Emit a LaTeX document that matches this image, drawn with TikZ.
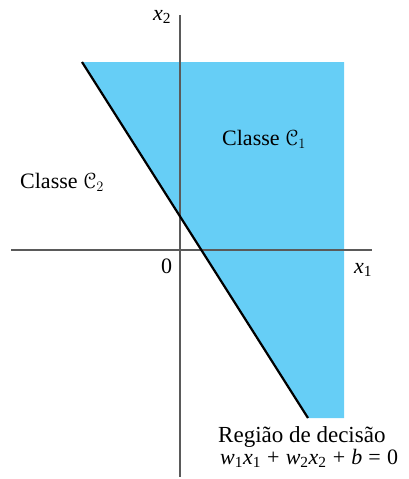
\documentclass[tikz,border=0pt]{standalone}
\usepackage{fontspec}
\setmainfont{Liberation Serif}
\usepackage[mathscr]{euscript}
\definecolor{regblue}{RGB}{102,206,246}
\definecolor{axisgray}{RGB}{90,90,90}
\newcommand\vsub[2]{\textit{#1}\textsubscript{#2}}
\newcommand\opsp[1]{\hspace{0.28em}#1\hspace{0.28em}}
\begin{document}
\begin{tikzpicture}[x=1pt,y=-1pt,
  lbl/.style={inner sep=0pt, anchor=base west, font=\fontsize{22}{26}\selectfont},
  biglbl/.style={lbl, font=\fontsize{23}{27}\selectfont},
  axisline/.style={draw=axisgray, line width=1.3pt},
  boundary/.style={draw=black, line width=2.2pt}]
\useasboundingbox (0,0) rectangle (408,479);
\coordinate (tl) at (82,62);
\coordinate (tr) at (344,62);
\coordinate (br) at (344,418);
\coordinate (bl) at (308,418);
\coordinate (xa) at (11,250);
\coordinate (xb) at (372,250);
\coordinate (ya) at (180,15);
\coordinate (yb) at (180,477);
\fill[regblue] (tl) -- (tr) -- (br) -- (bl) -- cycle;
\draw[axisline] (xa) -- (xb);
\draw[axisline] (ya) -- (yb);
\draw[boundary] (tl) -- (bl);
\node[lbl] (c1) at (222,145) {Classe $\mathscr{C}_1$};
\node[lbl] (c2) at (20,188) {Classe $\mathscr{C}_2$};
\node[lbl] (zero) at (161,273) {0};
\node[lbl] (x1) at (354,273) {\vsub{x}{1}};
\node[lbl] (x2) at (153,20) {\vsub{x}{2}};
\node[biglbl] (reg) at (218,442) {Região de decisão};
\node[lbl] (eq) at (220,464) {\vsub{w}{1}\vsub{x}{1}\opsp{+}\vsub{w}{2}\vsub{x}{2}\opsp{+}\textit{b}\opsp{=}0};
\end{tikzpicture}
\end{document}
